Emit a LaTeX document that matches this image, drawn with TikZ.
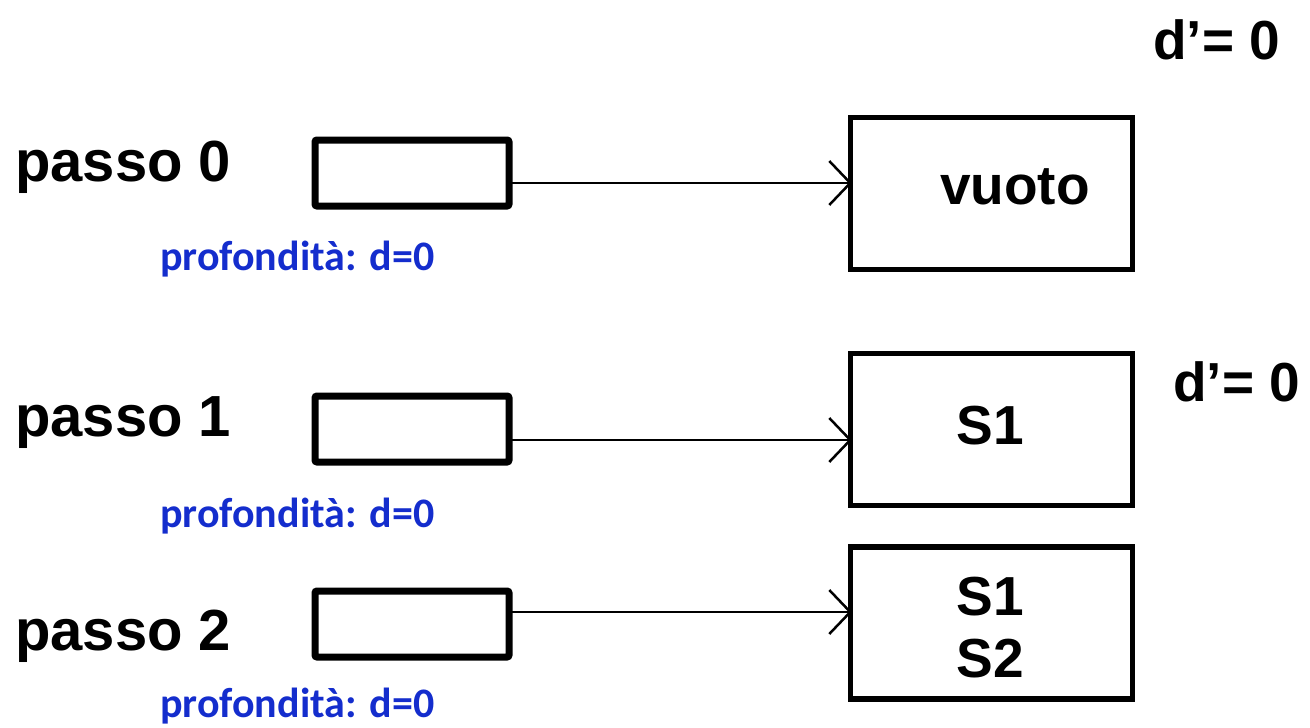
\documentclass[tikz,border=0pt]{standalone}
\usepackage{fontspec}
\setmainfont{Liberation Sans}
\newfontfamily\calib{Carlito}
\usetikzlibrary{arrows.meta}
\definecolor{depthblue}{RGB}{20,45,205}
\tikzset{
  small/.style={draw, line width=7pt, rounded corners=2pt, minimum width=194pt, minimum height=66pt, inner sep=0pt},
  big/.style={draw, line width=5.5pt, minimum width=282pt, minimum height=152pt, inner sep=0pt},
  lbl/.style={font=\fontsize{58}{60}\selectfont\bfseries, inner sep=0pt},
  blab/.style={font=\fontsize{55}{60}\selectfont\bfseries, inner sep=0pt},
  dep/.style={font=\calib\fontsize{42}{46}\selectfont\bfseries, text=depthblue, inner sep=0pt},
  conn/.style={line width=2.5pt, -{Straight Barb[length=21pt,width=44pt,line width=2.5pt]}}
}
\begin{document}
\begin{tikzpicture}[x=1pt,y=-1pt]
\useasboundingbox (0,0) rectangle (1310,728);
% step 0
\node[lbl, anchor=west] (p0) at (15,167) {passo 0};
\node[small] (a0) at (412,173) {};
\node[big] (b0) at (991.5,193.5) {};
\node[blab] (v0) at (1015,187) {vuoto};
\node[dep, anchor=west] (d0) at (160,259) {profondità: d=0};
\node[blab, anchor=west] (q0) at (1153,40) {d’= 0};
\coordinate (s0) at (508,183);
\coordinate (e0) at (852,183);
\draw[conn] (s0) -- (e0);
% step 1
\node[lbl, anchor=west] (p1) at (15,423) {passo 1};
\node[small] (a1) at (412,429) {};
\node[big] (b1) at (991.5,429.5) {};
\node[blab] (v1) at (990,426) {S1};
\node[dep, anchor=west] (d1) at (160,516) {profondità: d=0};
\node[blab, anchor=west] (q1) at (1173,382) {d’= 0};
\coordinate (s1) at (508,440);
\coordinate (e1) at (852,440);
\draw[conn] (s1) -- (e1);
% step 2
\node[lbl, anchor=west] (p2) at (15,636) {passo 2};
\node[small] (a2) at (412,624) {};
\node[big] (b2) at (991.5,623) {};
\node[blab] (v2a) at (990,597) {S1};
\node[blab] (v2b) at (990,659) {S2};
\node[dep, anchor=west] (d2) at (160,706) {profondità: d=0};
\coordinate (s2) at (508,612);
\coordinate (e2) at (852,612);
\draw[conn] (s2) -- (e2);
\end{tikzpicture}
\end{document}
